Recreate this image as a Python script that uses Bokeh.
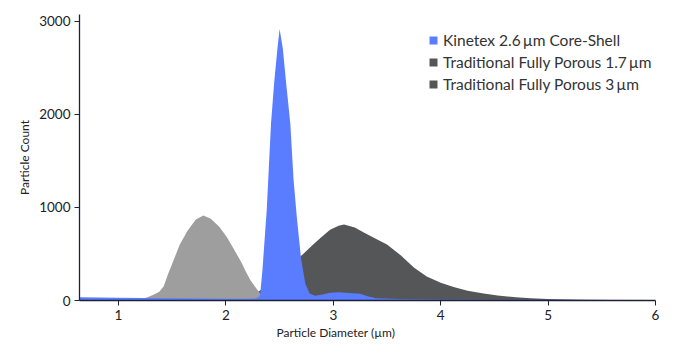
from bokeh.plotting import figure
from bokeh.models import Range1d, Legend, LegendItem, Title, FixedTicker
from bokeh.embed import file_html
from bokeh.resources import INLINE

# ---- data ----
diameter_core = [0.64, 1.0, 1.5, 2.0, 2.2, 2.28, 2.31, 2.32, 2.34, 2.38, 2.42, 2.45, 2.48, 2.50,
                 2.53, 2.56, 2.60, 2.63, 2.66, 2.70, 2.74, 2.78, 2.83, 2.90, 2.97, 3.05, 3.15,
                 3.25, 3.32, 3.40, 3.60, 4.0, 5.0, 6.0]
count_core = [35, 30, 24, 18, 18, 22, 40, 75, 323, 968, 1900, 2350, 2710, 2920,
              2710, 2350, 1900, 1300, 900, 450, 180, 75, 50, 65, 82, 88, 80,
              72, 45, 25, 15, 10, 7, 5]

diameter_fp17 = [0.64, 1.0, 1.2, 1.27, 1.32, 1.38, 1.42, 1.46, 1.51, 1.57, 1.64, 1.72, 1.79,
                 1.86, 1.94, 2.01, 2.08, 2.14, 2.19, 2.23, 2.27, 2.30, 2.33, 2.40, 2.60, 6.0]
count_fp17 = [5, 5, 10, 35, 60, 95, 150, 280, 425, 600, 745, 870, 915,
              880, 790, 680, 540, 420, 300, 215, 150, 106, 60, 20, 5, 0]

diameter_fp3 = [0.64, 1.5, 1.8, 2.0, 2.1, 2.2, 2.3, 2.4, 2.5, 2.6, 2.72, 2.80, 2.88, 2.97,
                3.05, 3.10, 3.20, 3.28, 3.40, 3.50, 3.63, 3.75, 3.87, 4.0, 4.12, 4.25, 4.40,
                4.53, 4.70, 4.84, 5.0, 5.3, 5.6, 6.0]
count_fp3 = [0, 2, 8, 20, 35, 55, 95, 170, 270, 380, 500, 590, 673, 762,
             805, 816, 785, 735, 660, 603, 484, 355, 258, 190, 145, 106, 75,
             53, 35, 25, 15, 8, 5, 3]

x_ticks = [1, 2, 3, 4, 5, 6]
y_ticks = [0, 1000, 2000, 3000]
series_labels = ["Kinetex 2.6\u2009\u00b5m Core-Shell",
                 "Traditional Fully Porous 1.7\u2009\u00b5m",
                 "Traditional Fully Porous 3\u2009\u00b5m"]

BLUE = "#5a7cff"
DARK = "#555657"
LIGHT = "#9e9e9e"
FONT = "Lato"
TXT = "#222222"

p = figure(width=691, height=354, output_backend="svg", toolbar_location=None,
           x_range=Range1d(0.637, 6.0), y_range=Range1d(0, 3075),
           min_border_left=79, min_border_right=36, min_border_top=14, min_border_bottom=54)
p.outline_line_color = None
p.grid.visible = False
p.background_fill_color = "white"

r3 = p.varea(x=diameter_fp3, y1=0, y2=count_fp3, fill_color=DARK)
# zero-height proxy so the 1.7 um legend swatch shows the dark legend colour
l17 = p.varea(x=diameter_fp17, y1=0, y2=0, fill_color=DARK, fill_alpha=1.0)
r17 = p.varea(x=diameter_fp17, y1=0, y2=count_fp17, fill_color=LIGHT)
rc = p.varea(x=diameter_core, y1=0, y2=count_core, fill_color=BLUE)

legend = Legend(items=[LegendItem(label=series_labels[0], renderers=[rc]),
                       LegendItem(label=series_labels[1], renderers=[l17]),
                       LegendItem(label=series_labels[2], renderers=[r3])],
                location=(349, 205))
legend.border_line_color = None
legend.background_fill_alpha = 0
legend.padding = 0
legend.spacing = 0
legend.margin = 0
legend.glyph_width = 10
legend.glyph_height = 10
legend.label_height = 22
legend.label_standoff = 5
legend.label_text_font = FONT
legend.label_text_font_size = "15.5px"
legend.label_text_color = "#333333"
p.add_layout(legend)

for ax in (p.xaxis[0], p.yaxis[0]):
    ax.axis_line_color = "#1f2235"
    ax.axis_line_width = 1.3
    ax.major_tick_line_color = "#1f2235"
    ax.major_tick_out = 5
    ax.major_tick_in = 0
    ax.minor_tick_line_color = None
    ax.major_label_standoff = 4
    ax.major_label_text_font = FONT
    ax.major_label_text_font_size = "13.5px"
    ax.major_label_text_color = TXT
    ax.axis_label_text_font = FONT
    ax.axis_label_text_font_size = "12px"
    ax.axis_label_text_font_style = "normal"
    ax.axis_label_text_color = TXT

p.xaxis[0].ticker = FixedTicker(ticks=x_ticks)
p.yaxis[0].ticker = FixedTicker(ticks=y_ticks)
p.yaxis[0].axis_label = "Particle Count"
p.yaxis[0].axis_label_standoff = 4

xt = Title(text="Particle Diameter (\u00b5m)", align="left", offset=197, standoff=1,
           text_font=FONT, text_font_size="12px", text_font_style="normal", text_color=TXT)
p.add_layout(xt, "below")

open("out.html", "w").write(file_html(p, INLINE))
